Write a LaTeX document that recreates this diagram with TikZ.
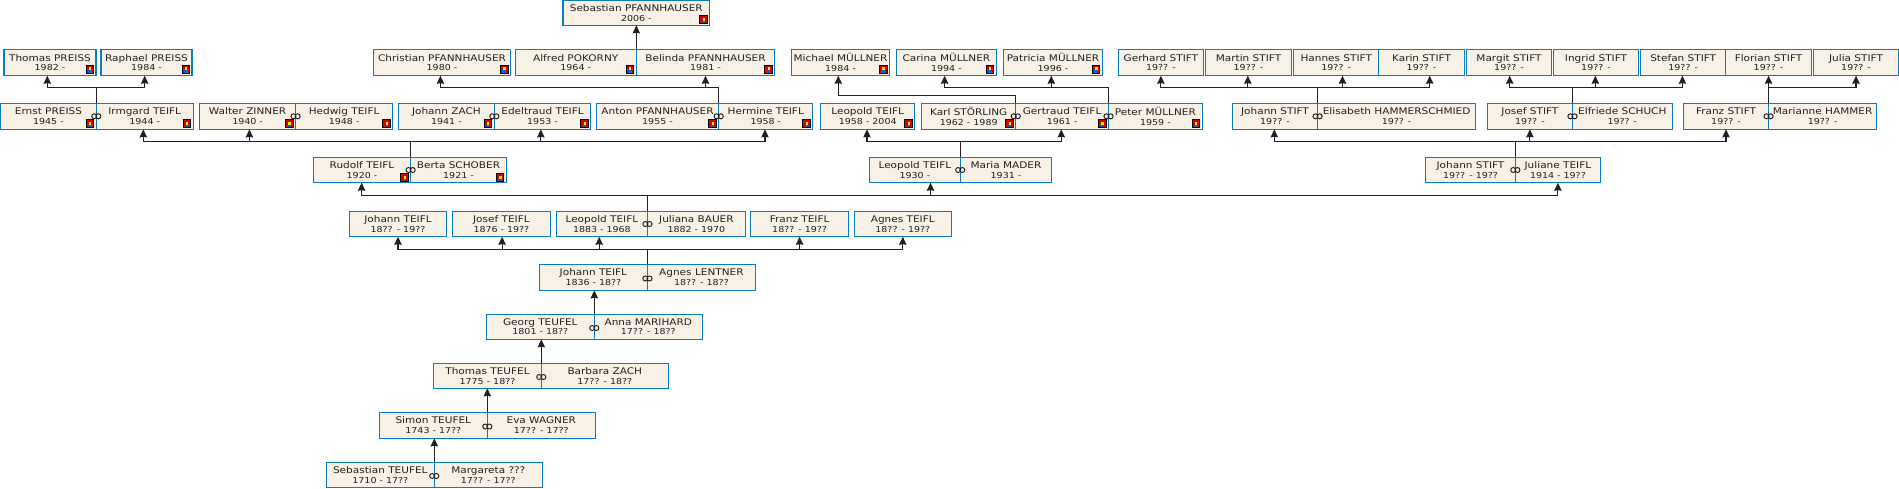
\documentclass[tikz,border=0pt]{standalone}
\usepackage{fontspec}
\setmainfont[FakeStretch=1.15]{DejaVu Sans}
\usetikzlibrary{arrows.meta}

\newlength{\px}
\setlength{\px}{0.02cm}
\newcommand{\yrs}[1]{{\fontsize{4.7}{5.5}\selectfont #1}}

\definecolor{boxline}{RGB}{8,126,190}
\definecolor{paper}{RGB}{247,242,229}
\definecolor{ink}{RGB}{35,31,32}

\tikzset{
  person/.style={draw=boxline, fill=paper, line width=0.6pt, outer sep=0pt, inner sep=0pt,
    align=center, text=ink, font=\fontsize{5.2}{5.5}\selectfont},
  w/.style={minimum width=#1*\px},
  h/.style={minimum height=#1*\px},
  link/.style={draw=ink, line width=0.65pt},
  kid/.style={link, -{Stealth[length=4.6pt, width=4.2pt, inset=0.4pt]}},
  badge/.pic={
    \fill[black] (-4.2,-4.4) rectangle (4.2,4.4);
    \fill[red!85!black] (-3.2,-3.4) rectangle (3.2,3.4);
    \fill[blue!50!cyan!80!black] (-1.9,0.9) rectangle (1.9,3.4);
    \fill[yellow] (-0.9,-2.2) rectangle (1.3,0.9);
  },
  rings/.pic={
    \draw[ink, line width=0.55pt, fill=paper] (-2.1,0) circle (2.5);
    \draw[ink, line width=0.55pt] (2.1,0) circle (2.5);
  }
}

\begin{document}
\begin{tikzpicture}[x=0.02cm, y=-0.02cm]
    \useasboundingbox (0,0) rectangle (1899,488);

    % Youngest generation
    \node[person, w=146.6, h=25] (sebastianP) at (636.3,12.8) {Sebastian PFANNHAUSER\\\yrs{2006 -}};

    % Children row
    \node[person, w=92, h=26.4] (thomasP) at (50,62.5) {Thomas PREISS\\\yrs{1982 -}};
    \node[person, w=91, h=26.4] (raphael) at (146.5,62.5) {Raphael PREISS\\\yrs{1984 -}};
    \node[person, w=137.1, h=26.4] (christian) at (442,62.5) {Christian PFANNHAUSER\\\yrs{1980 -}};
    \node[person, w=121.3, h=26.4] (alfred) at (575.7,62.5) {Alfred POKORNY\\\yrs{1964 -}};
    \node[person, w=138.3, h=26.4] (belinda) at (705.5,62.5) {Belinda PFANNHAUSER\\\yrs{1981 -}};
    \node[person, w=98, h=26.4] (michael) at (840.5,62.5) {Michael MÜLLNER\\\yrs{1984 -}};
    \node[person, w=99.7, h=26.4] (carina) at (946.4,62.5) {Carina MÜLLNER\\\yrs{1994 -}};
    \node[person, w=98.8, h=26.4] (patricia) at (1053,62.5) {Patricia MÜLLNER\\\yrs{1996 -}};
    \node[person, w=85.1, h=26.4] (gerhard) at (1160.9,62.5) {Gerhard STIFT\\\yrs{19?? -}};
    \node[person, w=86.1, h=26.4] (martin) at (1248.5,62.5) {Martin STIFT\\\yrs{19?? -}};
    \node[person, w=85.1, h=26.4] (hannes) at (1336.2,62.5) {Hannes STIFT\\\yrs{19?? -}};
    \node[person, w=85.6, h=26.4] (karin) at (1421.5,62.5) {Karin STIFT\\\yrs{19?? -}};
    \node[person, w=85.1, h=26.4] (margit) at (1509,62.5) {Margit STIFT\\\yrs{19?? -}};
    \node[person, w=85.1, h=26.4] (ingrid) at (1596,62.5) {Ingrid STIFT\\\yrs{19?? -}};
    \node[person, w=85.1, h=26.4] (stefan) at (1683.2,62.5) {Stefan STIFT\\\yrs{19?? -}};
    \node[person, w=85.6, h=26.4] (florian) at (1768.5,62.5) {Florian STIFT\\\yrs{19?? -}};
    \node[person, w=85.1, h=26.4] (julia) at (1856,62.5) {Julia STIFT\\\yrs{19?? -}};

    % Parents row
    \node[person, w=95.8, h=26] (ernst) at (48.4,116.3) {Ernst PREISS\\\yrs{1945 -}};
    \node[person, w=96.7, h=26] (irmgard) at (144.7,116.3) {Irmgard TEIFL\\\yrs{1944 -}};
    \node[person, w=95.9, h=26] (walter) at (247.6,116.3) {Walter ZINNER\\\yrs{1940 -}};
    \node[person, w=97.2, h=26] (hedwig) at (344.1,116.3) {Hedwig TEIFL\\\yrs{1948 -}};
    \node[person, w=95.9, h=26] (johannZ) at (446.4,116.3) {Johann ZACH\\\yrs{1941 -}};
    \node[person, w=96.3, h=26] (edeltraud) at (542.5,116.3) {Edeltraud TEIFL\\\yrs{1953 -}};
    \node[person, w=122.4, h=26] (anton) at (657.5,116.3) {Anton PFANNHAUSER\\\yrs{1955 -}};
    \node[person, w=94.1, h=26] (hermine) at (765.8,116.3) {Hermine TEIFL\\\yrs{1958 -}};
    \node[person, w=94.1, h=26] (leopoldB) at (867.7,116.3) {Leopold TEIFL\\\yrs{1958 - 2004}};
    \node[person, w=94.1, h=26] (karl) at (968.7,116.3) {Karl STÖRLING\\\yrs{1962 - 1989}};
    \node[person, w=92.8, h=26] (gertraud) at (1062.1,116.3) {Gertraud TEIFL\\\yrs{1961 -}};
    \node[person, w=93.7, h=26] (peter) at (1155.4,116.3) {Peter MÜLLNER\\\yrs{1959 -}};
    \node[person, w=85.1, h=26] (johannS) at (1275,116.3) {Johann STIFT\\\yrs{19?? -}};
    \node[person, w=157.9, h=26] (elisabeth) at (1396.6,116.3) {Elisabeth HAMMERSCHMIED\\\yrs{19?? -}};
    \node[person, w=85.1, h=26] (josefS) at (1529.9,116.3) {Josef STIFT\\\yrs{19?? -}};
    \node[person, w=99.8, h=26] (elfriede) at (1622.3,116.3) {Elfriede SCHUCH\\\yrs{19?? -}};
    \node[person, w=85.1, h=26] (franzS) at (1726,116.3) {Franz STIFT\\\yrs{19?? -}};
    \node[person, w=108.1, h=26] (marianne) at (1822.6,116.3) {Marianne HAMMER\\\yrs{19?? -}};

    % Grandparents row
    \node[person, w=97.2, h=25.4] (rudolf) at (362,170) {Rudolf TEIFL\\\yrs{1920 -}};
    \node[person, w=95.8, h=25.4] (berta) at (458.5,170) {Berta SCHOBER\\\yrs{1921 -}};
    \node[person, w=90.6, h=25.4] (leopoldT) at (914.9,170) {Leopold TEIFL\\\yrs{1930 -}};
    \node[person, w=91.5, h=25.4] (maria) at (1006,170) {Maria MADER\\\yrs{1931 -}};
    \node[person, w=89.7, h=25.4] (johannG) at (1470.5,170) {Johann STIFT\\\yrs{19?? - 19??}};
    \node[person, w=85.1, h=25.4] (juliane) at (1557.9,170) {Juliane TEIFL\\\yrs{1914 - 19??}};

    % Siblings row
    \node[person, w=97.2, h=25.4] (johannT) at (398,224) {Johann TEIFL\\\yrs{18?? - 19??}};
    \node[person, w=98.4, h=25.4] (josefT) at (501.4,224) {Josef TEIFL\\\yrs{1876 - 19??}};
    \node[person, w=91.1, h=25.4] (leopoldO) at (601.9,224) {Leopold TEIFL\\\yrs{1883 - 1968}};
    \node[person, w=98, h=25.4] (juliana) at (696.4,224) {Juliana BAUER\\\yrs{1882 - 1970}};
    \node[person, w=98, h=25.4] (franzT) at (799.6,224) {Franz TEIFL\\\yrs{18?? - 19??}};
    \node[person, w=97.1, h=25.4] (agnesT) at (902.8,224) {Agnes TEIFL\\\yrs{18?? - 19??}};

    % Direct line
    \node[person, w=108, h=26] (johannL) at (593.4,277.3) {Johann TEIFL\\\yrs{1836 - 18??}};
    \node[person, w=107.9, h=26] (lentner) at (701.4,277.3) {Agnes LENTNER\\\yrs{18?? - 18??}};
    \node[person, w=108, h=25] (georg) at (540.3,326.8) {Georg TEUFEL\\\yrs{1801 - 18??}};
    \node[person, w=108, h=25] (anna) at (648.3,326.8) {Anna MARIHARD\\\yrs{17?? - 18??}};
    \node[person, w=107.6, h=25] (thomasT) at (487.5,375.8) {Thomas TEUFEL\\\yrs{1775 - 18??}};
    \node[person, w=127, h=25] (barbara) at (604.8,375.8) {Barbara ZACH\\\yrs{17?? - 18??}};
    \node[person, w=108, h=26] (simon) at (433.3,425.3) {Simon TEUFEL\\\yrs{1743 - 17??}};
    \node[person, w=108, h=26] (eva) at (541.3,425.3) {Eva WAGNER\\\yrs{17?? - 17??}};
    \node[person, w=108, h=25] (sebastianT) at (380.3,474.8) {Sebastian TEUFEL\\\yrs{1710 - 17??}};
    \node[person, w=108, h=25] (margareta) at (488.3,474.8) {Margareta ???\\\yrs{17?? - 17??}};

    % Bus points above the couples
    \coordinate (busPreiss) at ([yshift=16\px]ernst.north east);
    \coordinate (busPfann) at ([yshift=16\px]anton.north east);
    \coordinate (busStoerling) at ([yshift=8\px]karl.north east);
    \coordinate (busMuellner) at ([yshift=16\px]gertraud.north east);
    \coordinate (busHammer) at ([yshift=16\px]johannS.north east);
    \coordinate (busSchuch) at ([yshift=16\px]josefS.north east);
    \coordinate (busMarianne) at ([yshift=16\px]franzS.north east);
    \coordinate (busRudolf) at ([yshift=16\px]rudolf.north east);
    \coordinate (busLeopold) at ([yshift=16\px]leopoldT.north east);
    \coordinate (busJuliane) at ([yshift=16\px]johannG.north east);
    \coordinate (busBauer) at ([yshift=16\px]leopoldO.north east);
    \coordinate (busLentner) at ([yshift=15\px]johannL.north east);

    % Trunks
    \foreach \who/\bus in {ernst/busPreiss, anton/busPfann, karl/busStoerling, gertraud/busMuellner,
      johannS/busHammer, josefS/busSchuch, franzS/busMarianne, rudolf/busRudolf,
      leopoldT/busLeopold, johannG/busJuliane, leopoldO/busBauer, johannL/busLentner}
      \draw[link] (\who.north east) -- (\bus);

    % Transitions to the children
    \draw[kid] (busPreiss) -| ([xshift=-2.7\px]thomasP.south);
    \draw[kid] (busPreiss) -| ([xshift=-1.8\px]raphael.south);
    \draw[kid] (busPfann) -| ([xshift=-1.6\px]christian.south);
    \draw[kid] (busPfann) -| (belinda.south);
    \draw[kid] (alfred.north east) -- (alfred.north east |- sebastianP.south);
    \draw[kid] (busStoerling) -| ([xshift=-2.2\px]michael.south);
    \draw[kid] (busMuellner) -| ([xshift=-1.8\px]carina.south);
    \draw[kid] (busMuellner) -| ([xshift=-1.7\px]patricia.south);
    \draw[kid] (busHammer) -| (gerhard.south);
    \draw[kid] (busHammer) -| ([xshift=-0.7\px]martin.south);
    \draw[kid] (busHammer) -| ([xshift=6.3\px]hannes.south);
    \draw[kid] (busHammer) -| ([xshift=8.2\px]karin.south);
    \draw[kid] (busSchuch) -| ([xshift=0.7\px]margit.south);
    \draw[kid] (busSchuch) -| ([xshift=-0.7\px]ingrid.south);
    \draw[kid] (busSchuch) -| ([xshift=-0.8\px]stefan.south);
    \draw[kid] (franzS.north east) -- (franzS.north east |- florian.south);
    \draw[kid] (busMarianne) -| (julia.south);

    \draw[kid] (busRudolf) -| ([xshift=-1.4\px]irmgard.south);
    \draw[kid] (busRudolf) -| ([xshift=1.8\px]walter.south);
    \draw[kid] (busRudolf) -| ([xshift=-1.7\px]edeltraud.south);
    \draw[kid] (busRudolf) -| ([xshift=-0.8\px]hermine.south);
    \draw[kid] (busLeopold) -| ([xshift=-0.7\px]leopoldB.south);
    \draw[kid] (busLeopold) -| ([xshift=-0.8\px]gertraud.south);
    \draw[kid] (busJuliane) -| ([xshift=-0.7\px]johannS.south);
    \draw[kid] (busJuliane) -| (josefS.south);
    \draw[kid] (busJuliane) -| (franzS.south);

    \draw[kid] (busBauer) -| ([xshift=-0.4\px]rudolf.south);
    \draw[kid] (busBauer) -| ([xshift=15.6\px]leopoldT.south);
    \draw[kid] (busBauer) -| (juliane.south);

    \draw[kid] (busLentner) -| (johannT.south);
    \draw[kid] (busLentner) -| ([xshift=0.7\px]josefT.south);
    \draw[kid] (busLentner) -| ([xshift=-2.7\px]leopoldO.south);
    \draw[kid] (busLentner) -| (franzT.south);
    \draw[kid] (busLentner) -| (agnesT.south);

    \draw[kid] (georg.north east) -- (georg.north east |- johannL.south);
    \draw[kid] (thomasT.north east) -- (thomasT.north east |- georg.south);
    \draw[kid] (simon.north east) -- (simon.north east |- thomasT.south);
    \draw[kid] (sebastianT.north east) -- (sebastianT.north east |- simon.south);

    % Marriage rings
    \foreach \who in {ernst, walter, johannZ, anton, karl, gertraud, johannS, josefS, franzS,
      rudolf, leopoldT, johannG, leopoldO}
      \pic at (\who.east) {rings};
    \foreach \who in {johannL, georg, thomasT, simon, sebastianT}
      \pic at ([yshift=-1.2\px]\who.east) {rings};

    % Photo badges
    \foreach \who in {thomasP, raphael, christian, alfred, belinda, michael, carina, patricia}
      \pic at ([xshift=-6.2\px, yshift=6.4\px]\who.south east) {badge};
    \foreach \who in {sebastianP, ernst, irmgard, walter, hedwig, johannZ, edeltraud, anton, hermine,
      leopoldB, karl, gertraud, peter}
      \pic at ([xshift=-6.2\px, yshift=5.6\px]\who.south east) {badge};
    \foreach \who in {rudolf, berta}
      \pic at ([xshift=-6.2\px, yshift=5\px]\who.south east) {badge};
\end{tikzpicture}
\end{document}
